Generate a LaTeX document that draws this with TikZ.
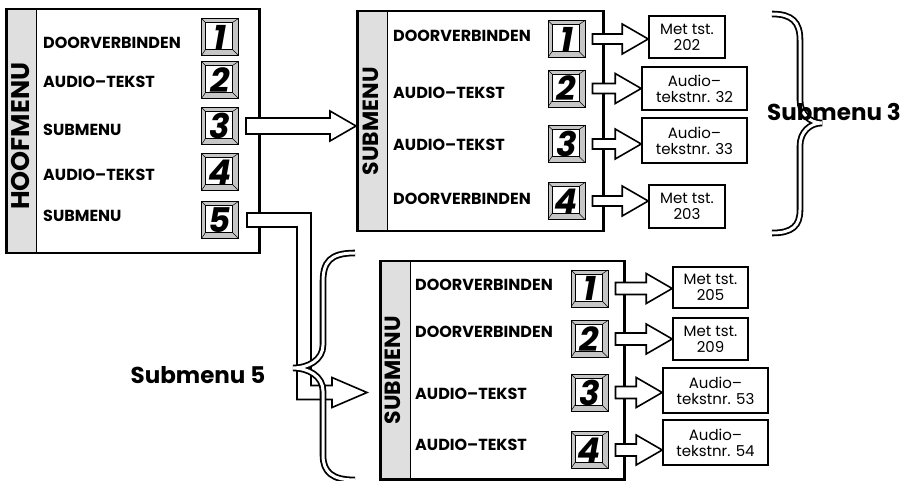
\documentclass[tikz,border=0pt]{standalone}
\usepackage{fontspec}
\setmainfont{Poppins}
\usetikzlibrary{calc}

\tikzset{
  menubox/.style={draw, line width=2.5pt, fill=white, inner sep=0pt, anchor=north west,
    path picture={
      \fill[gray!25] (path picture bounding box.north west) rectangle ([xshift=30pt]path picture bounding box.south west);
      \draw[line width=1.5pt] ([xshift=30pt]path picture bounding box.north west) -- ([xshift=30pt]path picture bounding box.south west);}},
  menutitle/.style={rotate=90, inner sep=0pt, font=\fontsize{22}{24}\selectfont\bfseries},
  itemlabel/.style={anchor=west, inner sep=0pt, font=\fontsize{16}{18}\selectfont\bfseries},
  keybox/.style={draw, line width=0.9pt, fill=gray!45, minimum size=37pt, inner sep=0pt,
    font=\fontsize{34}{34}\selectfont\bfseries\itshape,
    path picture={
      \draw[line width=0.8pt, fill=white] ([shift={(4pt,-4pt)}]path picture bounding box.north west) rectangle ([shift={(-6pt,6pt)}]path picture bounding box.south east);
      \draw[line width=0.5pt] (path picture bounding box.north west) -- ++(4pt,-4pt)
        (path picture bounding box.north east) -- ++(-6pt,-4pt)
        (path picture bounding box.south west) -- ++(4pt,6pt)
        (path picture bounding box.south east) -- ++(-6pt,6pt);}},
  resultbox/.style={draw, line width=1.6pt, inner sep=0pt, align=center, font=\fontsize{15}{16}\selectfont},
  hollow/.style={draw, line width=1.6pt, fill=white, line join=miter},
  bracepen/.style={line width=1.8pt, double=white, double distance=3pt},
  bracetext/.style={inner sep=0pt, font=\fontsize{23}{25}\selectfont\bfseries}
}

\newcommand{\hollowarrow}[4]{%
  \filldraw[hollow] let \p1=([xshift=7pt]#1.east), \p2=(#2.west) in
    (\x1,\y1+#3) -- (\x2-26pt,\y1+#3) -- (\x2-26pt,\y1+#4) -- (\x2,\y1)
    -- (\x2-26pt,\y1-#4) -- (\x2-26pt,\y1-#3) -- (\x1,\y1-#3) -- cycle;}

\begin{document}
\begin{tikzpicture}[x=1pt, y=-1pt]
\useasboundingbox (0,0) rectangle (919,481);

% hoofmenu
\node[menubox, minimum width=253pt, minimum height=244pt] (hoof) at (5,8) {};
\node[menutitle, font=\fontsize{25.5}{27}\selectfont\bfseries] (hooftitle) at ([xshift=16pt,yshift=-5pt]hoof.west) {HOOFMENU};
\foreach \d/\y in {1/37,2/80,3/126,4/172,5/220}
  \node[keybox] (h\d) at (220,\y) {\d};
\foreach \t/\y [count=\i] in {DOORVERBINDEN/43,AUDIO–TEKST/82,SUBMENU/130,AUDIO–TEKST/175,SUBMENU/216}
  \node[itemlabel] (hl\i) at (43,\y) {\t};

% submenu 3
\node[menubox, minimum width=246pt, minimum height=220pt] (sub3) at (356,10) {};
\node[menutitle] (sub3title) at ([xshift=15pt]sub3.west) {SUBMENU};
\foreach \d/\y in {1/39,2/88.5,3/144,4/201}
  \node[keybox] (s3k\d) at (566.5,\y) {\d};
\foreach \t/\y [count=\i] in {DOORVERBINDEN/36,AUDIO–TEKST/93,AUDIO–TEKST/145,DOORVERBINDEN/199}
  \node[itemlabel] (s3l\i) at (393,\y) {\t};
\node[resultbox, minimum width=76pt, minimum height=42pt] (r31) at (687,37) {Met tst.\\202};
\node[resultbox, minimum width=105pt, minimum height=43pt] (r32) at (694.5,88.5) {Audio–\\tekstnr. 32};
\node[resultbox, minimum width=105pt, minimum height=45pt] (r33) at (694.5,140.5) {Audio–\\tekstnr. 33};
\node[resultbox, minimum width=76pt, minimum height=43pt] (r34) at (687,206.5) {Met tst.\\203};

% submenu 5
\node[menubox, minimum width=244pt, minimum height=218pt] (sub5) at (379,260) {};
\node[menutitle] (sub5title) at ([xshift=14pt]sub5.west) {SUBMENU};
\foreach \d/\y in {1/288.5,2/339,3/392.5,4/450}
  \node[keybox] (s5k\d) at (589.5,\y) {\d};
\foreach \t/\y [count=\i] in {DOORVERBINDEN/285,DOORVERBINDEN/332,AUDIO–TEKST/394,AUDIO–TEKST/445}
  \node[itemlabel] (s5l\i) at (415,\y) {\t};
\node[resultbox, minimum width=75pt, minimum height=41pt] (r51) at (710.5,287.5) {Met tst.\\205};
\node[resultbox, minimum width=75pt, minimum height=42pt] (r52) at (710.5,339) {Met tst.\\209};
\node[resultbox, minimum width=105pt, minimum height=45pt] (r53) at (715.5,390.5) {Audio–\\tekstnr. 53};
\node[resultbox, minimum width=105pt, minimum height=45pt] (r54) at (715.5,442.5) {Audio–\\tekstnr. 54};

% arrows
\hollowarrow{h3}{sub3}{8pt}{15pt}
\foreach \i in {1,...,4} {\hollowarrow{s3k\i}{r3\i}{5pt}{15pt}}
\foreach \i in {1,...,4} {\hollowarrow{s5k\i}{r5\i}{6pt}{15pt}}

\coordinate (l5start) at ($(h5.east)+(8,0)$);
\coordinate (l5tip) at ($(sub5.west |- s5k3)+(-12,0)$);
\filldraw[hollow] let \p1=(l5start), \p2=(l5tip) in
  (\x1,\y1+7pt) -- (311pt,\y1+7pt) -- (311pt,\y2+7pt) -- (\x2-35pt,\y2+7pt)
  -- (\x2-35pt,\y2+15pt) -- (\x2,\y2) -- (\x2-35pt,\y2-15pt) -- (\x2-35pt,\y2-7pt)
  -- (297pt,\y2-7pt) -- (297pt,\y1-7pt) -- (\x1,\y1-7pt) -- cycle;

% braces
\draw[bracepen] (355,253) .. controls (330,253) and (323,262) .. (323,282) -- (323,345)
  .. controls (323,360) and (308,368) .. (293,368)
  .. controls (308,368) and (323,376) .. (323,391) -- (323,455)
  .. controls (323,472) and (332,480) .. (355,480);
\draw[bracepen] (772,14) .. controls (792,14) and (800,22) .. (800,40) -- (800,100)
  .. controls (800,114) and (810,123) .. (822,123)
  .. controls (810,123) and (800,132) .. (800,146) -- (800,210)
  .. controls (800,226) and (792,233) .. (772,233);

\node[bracetext] (sub3name) at (834,112) {Submenu 3};
\node[bracetext] (sub5name) at (198,375) {Submenu 5};
\end{tikzpicture}
\end{document}
